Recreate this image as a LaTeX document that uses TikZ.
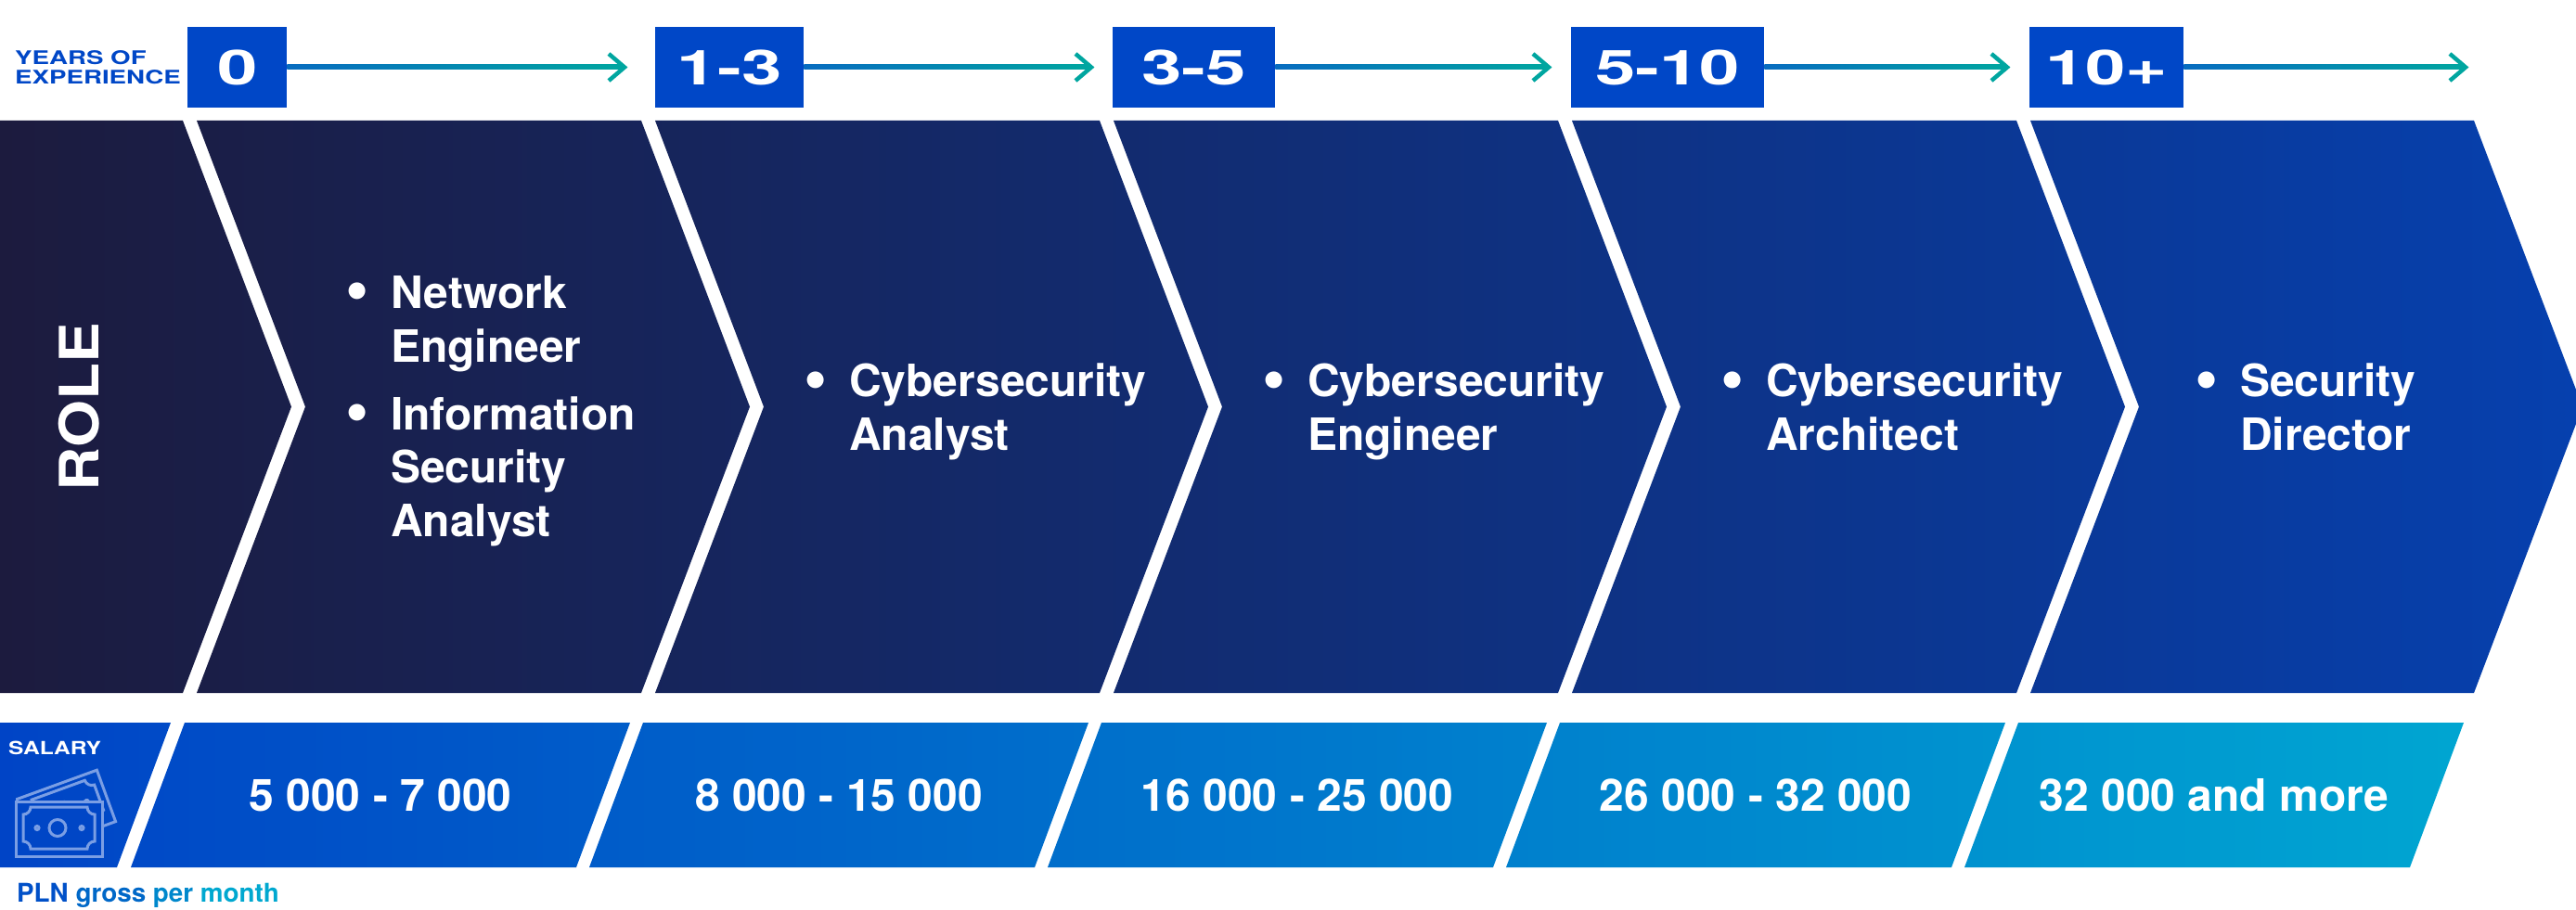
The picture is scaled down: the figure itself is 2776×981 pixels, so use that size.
\documentclass[tikz,border=0pt]{standalone}
\usepackage{fontspec}
\setmainfont{TeX Gyre Heros}
\usetikzlibrary{calc}
\definecolor{bandL}{RGB}{28,27,62}
\definecolor{bandR}{RGB}{6,64,174}
\definecolor{salL}{RGB}{0,68,198}
\definecolor{salR}{RGB}{0,170,210}
\definecolor{boxblue}{RGB}{0,71,199}
\definecolor{arrL}{RGB}{8,108,192}
\definecolor{arrR}{RGB}{0,166,160}
\definecolor{iconc}{RGB}{122,158,228}
\definecolor{iconfill}{RGB}{0,70,198}
\definecolor{plnA}{RGB}{0,80,200}
\definecolor{plnB}{RGB}{0,104,200}
\definecolor{plnC}{RGB}{0,136,204}
\definecolor{plnD}{RGB}{0,168,208}
\newcommand\wideby[2]{\scalebox{#1}[1]{#2}}
\newcommand\bul{\makebox[48.5pt][l]{\raisebox{-3pt}{\scalebox{1.5}{•}}}}
\newcommand\itemtwo[2]{\vtop{\hbox{\bul#1}\hbox{\hspace*{48.5pt}#2}}}
\newcommand\itemthree[3]{\vtop{\hbox{\bul#1}\hbox{\hspace*{48.5pt}#2}\hbox{\hspace*{48.5pt}#3}}}
\newcommand\billshape{%
  \draw (0,0) rectangle (93,59);
  \draw (16,6) -- (77,6) .. controls (77,10.4) and (80.6,14) .. (85,14) -- (85,43)
     .. controls (80.6,43) and (77,46.6) .. (77,51) -- (16,51)
     .. controls (16,46.6) and (12.4,43) .. (8,43) -- (8,14)
     .. controls (12.4,14) and (16,10.4) .. (16,6) -- cycle;
  \draw (45,28.5) circle[radius=9];
  \draw (23,28.5) circle[radius=2];
  \draw (71,28.5) circle[radius=2];
}
\tikzset{
  boxlab/.style={fill=boxblue, text=white, inner sep=0pt, minimum height=87pt, anchor=west,
    font={\fontsize{52}{52}\selectfont\bfseries}},
  roletxt/.style={text=white, inner sep=0pt, anchor=base west,
    font={\fontsize{48}{57.5}\selectfont\bfseries}},
  saltxt/.style={text=white, inner sep=0pt, anchor=base,
    font={\fontsize{48}{50}\selectfont\bfseries}},
  arrhead/.style={draw=arrR, line width=4.5pt},
  shaft/.style={left color=arrL, right color=arrR},
}
\begin{document}
\begin{tikzpicture}[x=1pt,y=-1pt]
\useasboundingbox (0,0) rectangle (2776,981);
\fill[white] (0,0) rectangle (2776,981);

% ---- role band (chevrons)
\begin{scope}
\clip (0,130) -- (197,130) -- (314,438.5) -- (197,747) -- (0,747) -- cycle
  (212,130) -- (691,130) -- (808,438.5) -- (691,747) -- (212,747) -- (329,438.5) -- cycle
  (706,130) -- (1185,130) -- (1302,438.5) -- (1185,747) -- (706,747) -- (823,438.5) -- cycle
  (1200,130) -- (1679,130) -- (1796,438.5) -- (1679,747) -- (1200,747) -- (1317,438.5) -- cycle
  (1694,130) -- (2173,130) -- (2290,438.5) -- (2173,747) -- (1694,747) -- (1811,438.5) -- cycle
  (2188,130) -- (2666,130) -- (2783,438.5) -- (2666,747) -- (2188,747) -- (2305,438.5) -- cycle;
\shade[left color=bandL, right color=bandR] (0,130) rectangle (2776,747);
\end{scope}

% ---- salary band
\begin{scope}
\clip (0,779) -- (184,779) -- (126,935) -- (0,935) -- cycle
  (199,779) -- (679,779) -- (621,935) -- (141,935) -- cycle
  (693,779) -- (1173,779) -- (1115,935) -- (635,935) -- cycle
  (1187,779) -- (1667,779) -- (1609,935) -- (1129,935) -- cycle
  (1681,779) -- (2161,779) -- (2103,935) -- (1623,935) -- cycle
  (2175,779) -- (2655,779) -- (2597,935) -- (2117,935) -- cycle;
\shade[left color=salL, right color=salR] (0,779) rectangle (2776,935);
\end{scope}

% ---- money icon
\begin{scope}[color=iconc, line width=3pt]
  \begin{scope}
    \clip (17,780) rectangle (180,934);
    \begin{scope}[shift={(17,862)}, rotate=20]
      \billshape
    \end{scope}
  \end{scope}
  \begin{scope}[shift={(17,864)}]
    \fill[iconfill] (0,0) rectangle (93,59);
    \billshape
  \end{scope}
\end{scope}

% ---- years of experience
\node[anchor=base west, text=boxblue, inner sep=0pt,
  font={\fontsize{20.2}{21.4}\selectfont\bfseries}] (yoe) at (16,69.3)
  {\vtop{\hbox{\wideby{1.37}{YEARS OF}}\hbox{\wideby{1.37}{EXPERIENCE}}}};

\node[boxlab, minimum width=107pt] (b0) at (202,72.5) {\wideby{1.5}{0}};
\node[boxlab, minimum width=160pt] (b1) at (706,72.5) {\wideby{1.5}{1-3}};
\node[boxlab, minimum width=175pt] (b2) at (1199,72.5) {\wideby{1.5}{3-5}};
\node[boxlab, minimum width=208pt] (b3) at (1693,72.5) {\wideby{1.5}{5-10}};
\node[boxlab, minimum width=166pt] (b4) at (2187,72.5) {\wideby{1.5}{10+}};

\coordinate (t1) at (673,72.5);
\coordinate (t2) at (1176,72.5);
\coordinate (t3) at (1669,72.5);
\coordinate (t4) at (2163,72.5);
\coordinate (t5) at (2657,72.5);

\shade[shaft] ($(b0.east)+(0,-2.5)$) rectangle ($(t1)+(-3,2.5)$);
\shade[shaft] ($(b1.east)+(0,-2.5)$) rectangle ($(t2)+(-3,2.5)$);
\shade[shaft] ($(b2.east)+(0,-2.5)$) rectangle ($(t3)+(-3,2.5)$);
\shade[shaft] ($(b3.east)+(0,-2.5)$) rectangle ($(t4)+(-3,2.5)$);
\shade[shaft] ($(b4.east)+(0,-2.5)$) rectangle ($(t5)+(-3,2.5)$);
\draw[arrhead] ($(t1)+(-17,-14.5)$) -- (t1) -- ($(t1)+(-17,14.5)$);
\draw[arrhead] ($(t2)+(-17,-14.5)$) -- (t2) -- ($(t2)+(-17,14.5)$);
\draw[arrhead] ($(t3)+(-17,-14.5)$) -- (t3) -- ($(t3)+(-17,14.5)$);
\draw[arrhead] ($(t4)+(-17,-14.5)$) -- (t4) -- ($(t4)+(-17,14.5)$);
\draw[arrhead] ($(t5)+(-17,-14.5)$) -- (t5) -- ($(t5)+(-17,14.5)$);

% ---- role texts
\node[rotate=90, text=white, inner sep=0pt, font={\fontsize{58.5}{60}\selectfont\bfseries}]
  (role) at (85,438.5) {\wideby{1.12}{ROLE}};
\node[roletxt] (c1a) at (372.5,333) {\itemtwo{Network}{Engineer}};
\node[roletxt] (c1b) at (372.5,463) {\itemthree{Information}{Security}{Analyst}};
\node[roletxt] (c2) at (866.5,428) {\itemtwo{Cybersecurity}{Analyst}};
\node[roletxt] (c3) at (1360.5,428) {\itemtwo{Cybersecurity}{Engineer}};
\node[roletxt] (c4) at (1854.5,428) {\itemtwo{Cybersecurity}{Architect}};
\node[roletxt] (c5) at (2365.5,428) {\itemtwo{Security}{Director}};

% ---- salary texts
\node[anchor=base west, text=white, inner sep=0pt, font={\fontsize{19.5}{20}\selectfont\bfseries}]
  (sal) at (9,813) {\wideby{1.26}{SALARY}};
\node[saltxt] (s1) at (410,874) {5 000 - 7 000};
\node[saltxt] (s2) at (904,874) {8 000 - 15 000};
\node[saltxt] (s3) at (1398,874) {16 000 - 25 000};
\node[saltxt] (s4) at (1892,874) {26 000 - 32 000};
\node[saltxt] (s5) at (2386,874) {32 000 and more};

\node[anchor=base west, inner sep=0pt, font={\fontsize{27.8}{30}\selectfont\bfseries}]
  (pln) at (18,972) {\textcolor{plnA}{PLN} \textcolor{plnB}{gross} \textcolor{plnC}{per} \textcolor{plnD}{month}};
\end{tikzpicture}
\end{document}
